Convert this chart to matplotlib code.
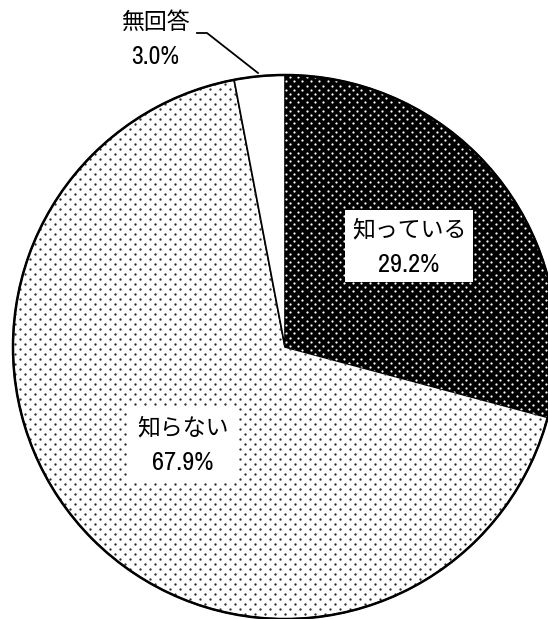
#import necessary libraries
import numpy as np
import matplotlib.pyplot as plt

#data
labels=['知っている','知らない','無回答']
values=[29.2,67.9,3.0]
pct_text=['29.2%','67.9%','3.0%']

jp_font=['Noto Sans CJK JP','DejaVu Sans']
num_font=['Archivo Narrow','Noto Sans CJK JP','DejaVu Sans']

W,H=548,619
fig=plt.figure(figsize=(W/100,H/100),dpi=100)
ax=fig.add_axes([0,0,1,1])

#pie in pixel-like coordinates (y up), center and radius
cx,cy,r=285,272,272
wedges,_=ax.pie(values,startangle=90,counterclock=False,center=(cx,cy),radius=r,
                colors=['black','white','white'],
                wedgeprops=dict(edgecolor='black',linewidth=1.2))

#dot texture: staggered grid, clipped to each slice
def dot_texture(wedge,sx,sy,color,size):
  rows=np.arange(0,H+sy,sy)
  xs,ys=[],[]
  for i,yy in enumerate(rows):
    xx=np.arange(0,W+sx,sx)+(i%2)*sx/2
    xs.extend(xx)
    ys.extend([yy]*len(xx))
  sc=ax.scatter(xs,ys,s=size,color=color,linewidths=0,marker='o')
  sc.set_clip_path(wedge)

dot_texture(wedges[0],8.4,4.2,'white',2.6)
dot_texture(wedges[1],10,5,'#2a2a2a',2.8)

#redraw outline on top
ax.add_patch(plt.Circle((cx,cy),r,facecolor='none',edgecolor='black',linewidth=1.8))

def boxed_label(x,y,name,pct,w,h):
  ax.add_patch(plt.Rectangle((x-w/2,y-h/2),w,h,facecolor='white',edgecolor='none',zorder=3))
  ax.text(x,y+16,name,family=jp_font,fontsize=16.5,ha='center',va='center',zorder=4)
  ax.text(x,y-18,pct,family=num_font,fontsize=19,ha='center',va='center',zorder=4)

boxed_label(409,373,labels[0],pct_text[0],128,72)
boxed_label(183,175,labels[1],pct_text[1],110,77)

#small slice label with leader line
ax.text(155,597,labels[2],family=jp_font,fontsize=16.5,ha='center',va='center')
ax.text(155,563,pct_text[2],family=num_font,fontsize=18.5,ha='center',va='center')
ax.plot([197,207,258],[586,586,546],color='black',linewidth=1.3)

ax.set_xlim(0,W)
ax.set_ylim(0,H)
ax.set_aspect('auto')
ax.axis('off')

fig.savefig('out.png',dpi=100)
